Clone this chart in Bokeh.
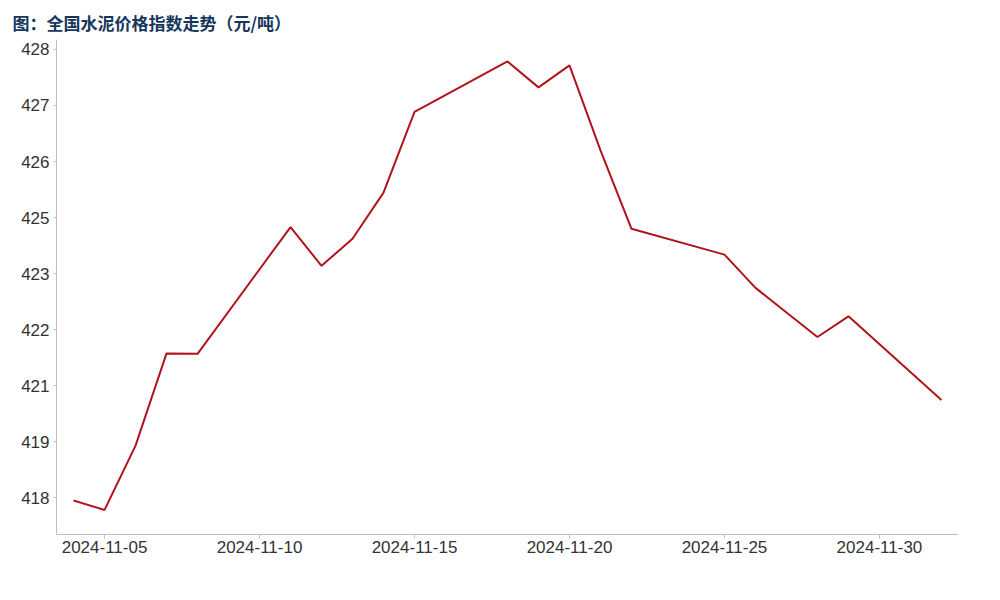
import pandas as pd
from bokeh.plotting import figure
from bokeh.models import (FixedTicker, DatetimeTickFormatter, Range1d, Legend, LegendItem)
from bokeh.embed import file_html
from bokeh.resources import INLINE

# ---- data ----
dates = ["2024-11-04", "2024-11-05", "2024-11-06", "2024-11-07", "2024-11-08",
         "2024-11-11", "2024-11-12", "2024-11-13", "2024-11-14", "2024-11-15",
         "2024-11-18", "2024-11-19", "2024-11-20", "2024-11-21", "2024-11-22",
         "2024-11-25", "2024-11-26", "2024-11-27", "2024-11-28", "2024-11-29",
         "2024-12-02"]
index_values = [417.99, 417.77, 419.26, 421.40, 421.39,
                424.33, 423.43, 424.06, 425.13, 427.00,
                428.17, 427.57, 428.08, 426.11, 424.29,
                423.69, 422.92, 422.35, 421.78, 422.26,
                420.32]
series_name = "全国水泥价格指数"
title_text = "图：全国水泥价格指数走势（元/吨）"
x_tick_dates = ["2024-11-05", "2024-11-10", "2024-11-15", "2024-11-20",
                "2024-11-25", "2024-11-30"]
y_tick_values = [418.05, 419.35, 420.65, 421.95, 423.25, 424.55, 425.85, 427.15, 428.45]
y_tick_labels = ["418", "419", "421", "422", "423", "425", "426", "427", "428"]

x = pd.to_datetime(dates)
day = pd.Timedelta(days=1)

p = figure(frame_width=902, frame_height=495, x_axis_type="datetime",
           output_backend="svg", toolbar_location=None,
           x_range=Range1d(x.min() - 0.55 * day, x.max() + 0.55 * day),
           y_range=Range1d(417.20, 428.68),
           min_border_left=56, min_border_right=26,
           min_border_top=39, min_border_bottom=0)

r = p.line(x, index_values, line_color="#B0141C", line_width=2)

p.title.text = title_text
p.title.text_font = "Noto Sans CJK SC"
p.title.text_font_size = "17px"
p.title.text_font_style = "bold"
p.title.text_color = "#16365C"
p.title.align = "left"
p.title.offset = -44
p.title.standoff = 10

p.grid.visible = False
p.outline_line_color = None

# x axis
xa = p.xaxis[0]
xa.ticker = FixedTicker(ticks=[pd.Timestamp(d).value / 1e6 for d in x_tick_dates])
fmt = "%Y-%m-%d"
xa.formatter = DatetimeTickFormatter(days=fmt, months=fmt, hours=fmt, years=fmt)
xa.axis_line_color = "#C0C0C0"
xa.major_tick_line_color = "#C0C0C0"
xa.major_tick_out = 4
xa.major_tick_in = 0
xa.minor_tick_line_color = None
xa.major_label_standoff = 2
xa.major_label_text_font = "Liberation Sans"
xa.major_label_text_font_size = "17px"
xa.major_label_text_color = "#333333"

# y axis
ya = p.yaxis[0]
ya.ticker = FixedTicker(ticks=y_tick_values)
ya.major_label_overrides = {v: l for v, l in zip(y_tick_values, y_tick_labels)}
ya.axis_line_color = "#C0C0C0"
ya.major_tick_line_color = "#C0C0C0"
ya.major_tick_out = 3
ya.major_tick_in = 0
ya.minor_tick_line_color = None
ya.major_label_standoff = 4
ya.major_label_text_font = "Liberation Sans"
ya.major_label_text_font_size = "17px"
ya.major_label_text_color = "#333333"

legend = Legend(items=[LegendItem(label=series_name, renderers=[r])],
                location="top_center", orientation="horizontal",
                label_text_font="Noto Sans CJK SC", label_text_font_size="16px",
                label_text_color="#333333", glyph_width=16, glyph_height=16,
                label_height=16, label_standoff=3, border_line_color=None,
                background_fill_alpha=0, padding=2, margin=-22, spacing=0)
p.add_layout(legend, "below")

open("out.html", "w").write(file_html(p, INLINE))
